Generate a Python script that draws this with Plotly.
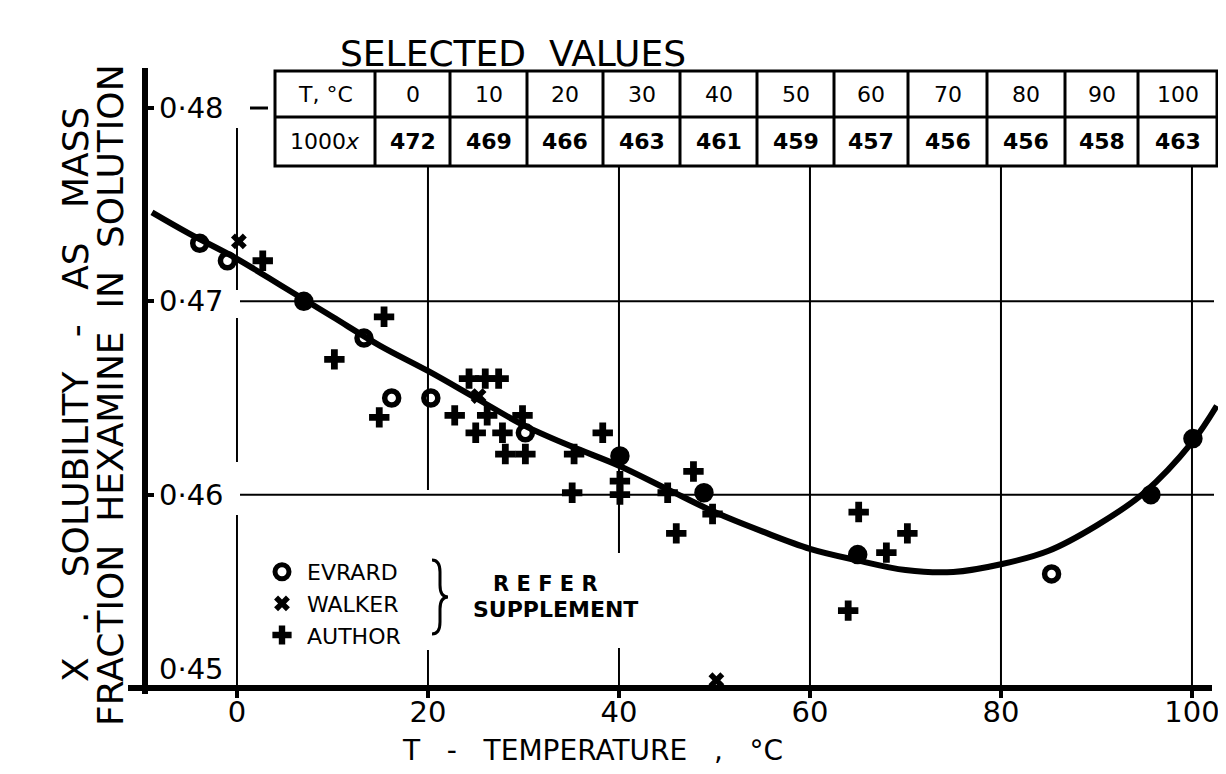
import plotly.graph_objects as go

# ---------------- data ----------------
curve_T = [-8.9, -5, 0, 5, 10, 15, 20, 25, 30, 35, 40, 45, 50, 55, 60, 65, 70, 75, 80, 85, 90, 95, 100, 102.6]
curve_x = [0.4746, 0.4735, 0.4722, 0.4707, 0.4692, 0.4677, 0.4664, 0.4650, 0.4636, 0.4625, 0.4615, 0.4603,
           0.4591, 0.4581, 0.4572, 0.4566, 0.4561, 0.4560, 0.4564, 0.4571, 0.4584, 0.4601, 0.4627, 0.4646]

evrard_T = [-3.9, -1.0, 7.0, 13.3, 16.2, 20.3, 30.2, 40.1, 48.9, 65.0, 85.3, 95.7, 100.1]
evrard_x = [0.4730, 0.4721, 0.4700, 0.4681, 0.4650, 0.4650, 0.4632, 0.4620, 0.4601, 0.4569, 0.4559, 0.4600, 0.4629]
evrard_filled = [0, 0, 1, 0, 0, 0, 0, 1, 1, 1, 0, 1, 1]

walker_T = [0.2, 25.3, 50.2]
walker_x = [0.4731, 0.4651, 0.4504]

author_T = [2.7, 10.2, 15.4, 14.9, 22.8, 24.3, 26.0, 27.4, 26.2, 25.0, 27.8, 29.9, 28.1, 30.2, 35.3, 38.3,
            35.1, 40.1, 40.1, 45.1, 47.8, 49.8, 46.0, 65.1, 64.0, 68.0, 70.2]
author_x = [0.4721, 0.4670, 0.4692, 0.4640, 0.4641, 0.4660, 0.4660, 0.4660, 0.4641, 0.4632, 0.4632, 0.4641,
            0.4621, 0.4621, 0.4621, 0.4632, 0.4601, 0.4607, 0.4600, 0.4601, 0.4612, 0.4590, 0.4580, 0.4591,
            0.4540, 0.4570, 0.4580]

table_T = [0, 10, 20, 30, 40, 50, 60, 70, 80, 90, 100]
table_1000x = [472, 469, 466, 463, 461, 459, 457, 456, 456, 458, 463]

x_ticks = [0, 20, 40, 60, 80, 100]
x_ticktext = ["0", "20", "40", "60", "80", "100"]
y_ticks = [0.45, 0.46, 0.47, 0.48]
y_ticktext = ["0·45", "0·46", "0·47", "0·48"]

# ---------------- layout geometry ----------------
OFF = 8  # page body margin of the browser
W, H = 1226 - OFF, 774 - OFF
ML, MR, MT, MB = 145 - OFF, 6, 68 - OFF, 86
PW, PH = W - ML - MR, H - MT - MB
XR = [-9.63, -9.63 + PW / 9.55]
YR = [0.45, 0.45 + PH / 19333.0]
FONT = "DejaVu Sans"


def xp(px):
    """window pixel x -> paper"""
    return (px - OFF - ML) / PW


def yp(py):
    """window pixel y -> paper"""
    return (H - MB - (py - OFF)) / PH


fig = go.Figure()

fig.add_trace(go.Scatter(x=curve_T, y=curve_x, mode="lines", line=dict(color="black", width=6, shape="spline"),
                         showlegend=False, hoverinfo="skip"))
fig.add_trace(go.Scatter(x=evrard_T, y=evrard_x, mode="markers", name="EVRARD",
                         marker=dict(symbol=["circle" if f else "circle-open" for f in evrard_filled],
                                     size=14, color="black", line=dict(color="black", width=5.5)),
                         cliponaxis=False))
fig.add_trace(go.Scatter(x=walker_T, y=walker_x, mode="markers", name="WALKER",
                         marker=dict(symbol="x", size=14, color="black", line=dict(width=0)),
                         cliponaxis=False))
fig.add_trace(go.Scatter(x=author_T, y=author_x, mode="markers", name="AUTHOR",
                         marker=dict(symbol="cross", size=17, color="black", line=dict(width=0)),
                         cliponaxis=False))

shapes = []
grid_v = {0: [(128, 290), (318, 462), (515, 685)], 20: [(166, 490), (650, 688)], 40: [(166, 553), (648, 688)],
          60: [(166, 688)], 80: [(166, 688)], 100: [(166, 688)]}
for gx, segs in grid_v.items():
    for a, b in segs:
        shapes.append(dict(type="line", xref="x", yref="paper", x0=gx, x1=gx, y0=yp(a), y1=yp(b),
                           line=dict(color="black", width=2)))
for gy in [0.46, 0.47]:
    shapes.append(dict(type="line", xref="paper", yref="y", x0=xp(240), x1=xp(1214), y0=gy, y1=gy,
                       line=dict(color="black", width=2)))
shapes.append(dict(type="line", xref="paper", yref="y", x0=xp(250), x1=xp(268), y0=0.48, y1=0.48,
                   line=dict(color="black", width=3)))
shapes.append(dict(type="line", xref="paper", yref="paper", x0=0, x1=0, y0=yp(694), y1=1,
                   line=dict(color="black", width=6)))
shapes.append(dict(type="line", xref="paper", yref="paper", x0=xp(128), x1=xp(1212), y0=0, y1=0,
                   line=dict(color="black", width=6)))

# table
col_px = [275, 375, 450, 527, 603, 680, 757, 834, 908, 987, 1065, 1138, 1217]
row_px = [71, 117, 166]
shapes.append(dict(type="rect", xref="paper", yref="paper", x0=xp(col_px[0]), x1=xp(col_px[-1]),
                   y0=yp(row_px[0]), y1=yp(row_px[-1]), line=dict(color="black", width=3), fillcolor="white"))
for c in col_px[1:-1]:
    shapes.append(dict(type="line", xref="paper", yref="paper", x0=xp(c), x1=xp(c), y0=yp(row_px[0]),
                       y1=yp(row_px[-1]), line=dict(color="black", width=3)))
shapes.append(dict(type="line", xref="paper", yref="paper", x0=xp(col_px[0]), x1=xp(col_px[-1]),
                   y0=yp(row_px[1]), y1=yp(row_px[1]), line=dict(color="black", width=3)))

# legend brace
bx0, bx1, bx2 = xp(432), xp(440), xp(448)
by0, bym, by1 = yp(560), yp(597), yp(634)
dy = 12 / PH
shapes.append(dict(type="path", xref="paper", yref="paper",
                   path=f"M {bx0},{by0} Q {bx1},{by0} {bx1},{by0-dy} L {bx1},{bym+dy} Q {bx1},{bym} {bx2},{bym} "
                        f"Q {bx1},{bym} {bx1},{bym-dy} L {bx1},{by1+dy} Q {bx1},{by1} {bx0},{by1}",
                   line=dict(color="black", width=3)))


def txt(x, y, s, size, weight="normal", angle=0):
    return dict(x=x, y=y, xref="paper", yref="paper", text=s, showarrow=False, xanchor="center",
                yanchor="middle", textangle=angle, font=dict(family=FONT, size=size, color="black", weight=weight))


ann = []
for v, t in zip(y_ticks, y_ticktext):
    yy = v if v > 0.45 else 0.451
    ann.append(dict(x=xp(157), y=yy, xref="paper", yref="y", text=t, showarrow=False, xanchor="left",
                    yanchor="middle", font=dict(family=FONT, size=29, color="black")))

row1_c = (row_px[0] + row_px[1]) / 2
row2_c = (row_px[1] + row_px[2]) / 2
hc = (col_px[0] + col_px[1]) / 2
ann.append(txt(xp(hc), yp(row1_c), "T, °C", 22))
ann.append(txt(xp(hc), yp(row2_c), "1000<i>x</i>", 22))
for i, (t, v) in enumerate(zip(table_T, table_1000x)):
    cx = xp((col_px[i + 1] + col_px[i + 2]) / 2)
    ann.append(txt(cx, yp(row1_c), str(t), 22))
    ann.append(txt(cx, yp(row2_c), str(v), 22, "bold"))
ann.append(txt(xp(513), yp(53), "SELECTED  VALUES", 36))

ann.append(txt(xp(545), yp(584), "R E F E R", 21, "bold"))
ann.append(txt(xp(555), yp(609), "SUPPLEMENT", 22, "bold"))

ann.append(txt(xp(592), yp(750), "T   -   TEMPERATURE   ,   °C", 28))
ann.append(txt(xp(76), yp(395), "X   .   SOLUBILITY   -   AS   MASS", 36, angle=-90))
ann.append(txt(xp(111), yp(395), "FRACTION  HEXAMINE  IN  SOLUTION", 36, angle=-90))

fig.update_layout(
    width=W, height=H, margin=dict(l=ML, r=MR, t=MT, b=MB),
    paper_bgcolor="white", plot_bgcolor="white",
    shapes=shapes, annotations=ann,
    showlegend=True,
    legend=dict(x=xp(257), y=yp(551), xanchor="left", yanchor="top", bgcolor="rgba(0,0,0,0)",
                font=dict(family=FONT, size=22, color="black"), itemwidth=40, traceorder="normal",
                tracegroupgap=0),
    xaxis=dict(range=XR, showgrid=False, zeroline=False, showline=False, tickvals=x_ticks, ticktext=x_ticktext,
               ticks="outside", ticklen=9, tickwidth=4, tickcolor="black", ticklabelstandoff=-11,
               tickfont=dict(family=FONT, size=29, color="black")),
    yaxis=dict(range=YR, showgrid=False, zeroline=False, showline=False, tickvals=y_ticks, ticks="inside",
               ticklen=9, tickwidth=4, tickcolor="black", showticklabels=False),
)

fig.write_html("out.html")
